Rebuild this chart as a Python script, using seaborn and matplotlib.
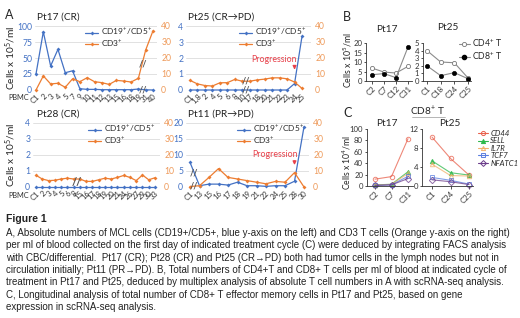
import numpy as np
import pandas as pd
import matplotlib
matplotlib.use("Agg")
import matplotlib.pyplot as plt
import seaborn as sns
from matplotlib.lines import Line2D

sns.set_theme(style="white")
plt.rcParams['font.family'] = ['Lato', 'DejaVu Sans']
plt.rcParams['mathtext.fontset'] = 'custom'
plt.rcParams['mathtext.rm'] = 'Lato'
plt.rcParams['mathtext.it'] = 'Lato:italic'
plt.rcParams['mathtext.bf'] = 'Lato:bold'

# ---------------- data ----------------
pt17_labels = ["C1", "2", "3", "4", "5", "7", "9", "10", "11", "12", "13", "15", "16", "18", "19", "31", "40"]
pt17_cd19 = [25, 91, 37.5, 63.5, 27, 30, 2, 1, 1, 0.5, 0.5, 0.5, 0.5, 0.5, 1.5, 0.3, 0]
pt17_cd3 = [0, 8.8, 3.8, 4.2, 1.7, 7, 5.2, 7.7, 5.2, 4.6, 3.5, 6, 5.6, 5, 7.3, 25, 37]

pt25_labels = ["C1", "1,8", "2", "4", "5", "6", "8", "10", "17", "18", "20", "21", "22", "23", "24", "25"]
pt25_cd19 = [0, 0, 0, 0, 0, 0, 0, 0, 0, 0, 0, 0, 0, 0, 0.4, 3.35]
pt25_cd3 = [6, 3.8, 2.8, 2.5, 4.5, 4.6, 6.6, 5.5, 5.5, 6.3, 6.8, 7.6, 7.6, 7.0, 5.0, 1.0]

pt28_labels = ["C1", "2", "3", "4", "5", "6", "8", "15", "16", "17", "18", "19", "20", "21", "24", "26", "27", "29", "30", "33"]
pt28_cd19 = [0] * 20
pt28_cd3 = [7.3, 5.0, 4.0, 4.2, 5.0, 5.5, 5.0, 5.0, 3.5, 3.5, 4.5, 5.5, 5.0, 6.0, 7.2, 6.0, 4.0, 7.5, 4.5, 5.8]

pt11_labels = ["C1", "13", "15", "16", "17", "18", "19", "21", "22", "24", "25", "28", "30"]
pt11_cd19 = [7.7, 0.4, 0.9, 0.9, 0.6, 1.5, 0.4, 0.4, 0.2, 0.4, 0.4, 1.8, 18.8]
pt11_cd3 = [0.3, 0.8, 6, 11.5, 6, 5, 4, 3, 2, 3.5, 3, 9, 0]

b17_labels = ["C2", "C7", "C12", "C31"]
b17_cd4 = [6.8, 4.7, 4.2, 7.7]
b17_cd8 = [3.3, 3.9, 1.75, 17.9]
b25_labels = ["C1", "C18", "C24", "C25"]
b25_cd4 = [4.0, 2.5, 2.4, 0.4]
b25_cd8 = [2.0, 0.7, 1.1, 0.3]

c17_labels = ["C2", "C7", "C31"]
c17 = {"CD44": [12, 16.5, 83], "SELL": [2, 3, 25], "IL7R": [1.5, 3, 22],
       "TCF7": [1, 2, 17], "NFATC1": [1, 2, 13]}
c25_labels = ["C1", "C24", "C25"]
c25 = {"CD44": [10.3, 5.8, 2.3], "SELL": [5.3, 2.8, 2.3], "IL7R": [4.6, 2.2, 2.1],
       "TCF7": [1.8, 1.2, 0.4], "NFATC1": [1.3, 0.9, 0.3]}
genes = ["CD44", "SELL", "IL7R", "TCF7", "NFATC1"]

caption = [
    "A, Absolute numbers of MCL cells (CD19+/CD5+, blue y-axis on the left) and CD3 T cells (Orange y-axis on the right)",
    "per ml of blood collected on the first day of indicated treatment cycle (C) were deduced by integrating FACS analysis",
    "with CBC/differential.  Pt17 (CR); Pt28 (CR) and Pt25 (CR\u2192PD) both had tumor cells in the lymph nodes but not in",
    "circulation initially; Pt11 (PR\u2192PD). B, Total numbers of CD4+T and CD8+ T cells per ml of blood at indicated cycle of",
    "treatment in Pt17 and Pt25, deduced by multiplex analysis of absolute T cell numbers in A with scRNA-seq analysis.",
    "C, Longitudinal analysis of total number of CD8+ T effector memory cells in Pt17 and Pt25, based on gene",
    "expression in scRNA-seq analysis.",
]

# ---------------- style ----------------
W, H = 520, 318
BLUE = "#4472C4"
ORANGE = "#ED7D31"
RTICK = "#EE9A5A"
GRID = "#DCDCDC"
RED = "#E8404A"

fig = plt.figure(figsize=(W / 100, H / 100), dpi=100)
fig.patch.set_facecolor("white")


def fx(x):
    return x / W


def fy(y):
    return 1 - y / H


def add_axes(L, T, R, B):
    return fig.add_axes([L / W, 1 - B / H, (R - L) / W, (B - T) / H])


def xlim_for(L, R, p0, p1, n):
    step = (p1 - p0) / (n - 1)
    return (-(p0 - L) / step, (n - 1) + (R - p1) / step)


def brk_mark(ax, x, y, size=6.5):
    ax.text(x, y, "//", fontsize=size, color="#555555", ha="center", va="center",
            zorder=6, fontweight="bold")


def panel_A(L, T, R, B, p0, p1, labels, cd19, cd3, ymax, yticks, show_pbmc,
            title, title_x, prog=None):
    n = len(labels)
    ax = add_axes(L, T, R, B)
    ax2 = ax.twinx()
    df = pd.DataFrame({"pos": np.arange(n), "CD19": cd19, "CD3": cd3})
    for y in yticks:
        ax.axhline(y, color=GRID, lw=0.6, zorder=0)
    sns.lineplot(data=df, x="pos", y="CD19", ax=ax, color=BLUE, lw=0.9, marker="D",
                 markersize=2.0, markeredgewidth=0, clip_on=False, zorder=3)
    sns.lineplot(data=df, x="pos", y="CD3", ax=ax2, color=ORANGE, lw=0.9, marker="D",
                 markersize=2.0, markeredgewidth=0, clip_on=False, zorder=3)
    ax.set_ylim(0, ymax)
    ax2.set_ylim(0, 40)
    ax.set_yticks(yticks)
    ax2.set_yticks([0, 10, 20, 30, 40])
    ax.set_xlim(*xlim_for(L, R, p0, p1, n))
    ax.set_xticks(np.arange(n))
    ax.set_xticklabels(labels, rotation=45, ha="right", rotation_mode="anchor",
                       fontsize=5.5, color="#333333")
    ax.tick_params(axis="y", labelsize=6.2, colors=BLUE, length=0, pad=2)
    ax.tick_params(axis="x", length=0, pad=2)
    ax2.tick_params(axis="y", labelsize=6.2, colors=RTICK, length=0, pad=3)
    for a in (ax, ax2):
        for s in a.spines.values():
            s.set_visible(False)
        a.set_xlabel("")
        a.set_ylabel("")
        a.grid(False)
        a.patch.set_visible(False)
    handles = [Line2D([], [], color=BLUE, lw=0.9, marker="D", markersize=2.0, markeredgewidth=0),
               Line2D([], [], color=ORANGE, lw=0.9, marker="D", markersize=2.0, markeredgewidth=0)]
    ax2.legend(handles, ["CD19$^{+}$/CD5$^{+}$", "CD3$^{+}$"], loc="upper right",
               bbox_to_anchor=(1.0, 1.06), frameon=False, fontsize=6.0, handlelength=1.6,
               handletextpad=0.3, labelspacing=0.05, borderaxespad=0.2)
    fig.text(fx(title_x), fy(T - 9), title, fontsize=7.3, ha="left", va="center", color="#222222")
    if show_pbmc:
        fig.text(fx(8), fy(B + 8), "PBMC", fontsize=5.3, ha="left", va="center", color="#333333")
    if prog is not None:
        idx, ytxt, yarrow_top, yarrow_bot = prog
        ax2.text(idx + 0.3, ytxt, "Progression", color=RED, fontsize=6.3, ha="right", va="center")
        ax2.annotate("", xy=(idx, yarrow_bot), xytext=(idx, yarrow_top),
                     arrowprops=dict(arrowstyle="-|>", color=RED, lw=0.9, mutation_scale=5))
    return ax, ax2


# Panel A
fig.text(fx(5), fy(15), "A", fontsize=9, ha="left", va="center")
a1, a1r = panel_A(35, 26, 157, 90, 36, 153, pt17_labels, pt17_cd19, pt17_cd3, 100,
                  [0, 25, 50, 75, 100], True, "Pt17 (CR)", 37)
brk_mark(a1r, 14.6, 16.5)
brk_mark(a1r, 14.6, 0)

a2, a2r = panel_A(186, 26, 311, 90, 190, 302, pt25_labels, pt25_cd19, pt25_cd3, 4,
                  [0, 1, 2, 3, 4], False, "Pt25 (CR\u2192PD)", 188,
                  prog=(14, 19, 16, 11))
brk_mark(a2r, 7.5, 5.6)
brk_mark(a2r, 7.5, 0)

a3, a3r = panel_A(33, 123, 160, 187, 36, 155, pt28_labels, pt28_cd19, pt28_cd3, 4,
                  [0, 1, 2, 3, 4], True, "Pt28 (CR)", 37)
brk_mark(a3r, 6.5, 2.5, size=8)

a4, a4r = panel_A(186, 123, 309, 187, 190, 304, pt11_labels, pt11_cd19, pt11_cd3, 20,
                  [0, 5, 10, 15, 20], False, "Pt11 (PR\u2192PD)", 188,
                  prog=(11, 20.5, 18, 12))
brk_mark(a4r, 0.45, 8.5)
brk_mark(a4r, 0.45, 0.5)

ylab = "Cells x 10$^{5}$/ml"
fig.text(fx(11), fy(58), ylab, rotation=90, fontsize=7.3, ha="center", va="center")
fig.text(fx(11), fy(155), ylab, rotation=90, fontsize=7.3, ha="center", va="center")


# ---------------- Panel B ----------------
def small_axes(L, T, R, B, p0, p1, n):
    ax = add_axes(L, T, R, B)
    ax.set_xlim(*xlim_for(L, R, p0, p1, n))
    for s in ["top", "right"]:
        ax.spines[s].set_visible(False)
    for s in ["left", "bottom"]:
        ax.spines[s].set_color("#333333")
        ax.spines[s].set_linewidth(0.6)
    ax.tick_params(axis="both", labelsize=5.6, length=1.8, width=0.6, pad=1, colors="#333333",
                   left=True, bottom=True)
    ax.grid(False)
    return ax


fig.text(fx(343), fy(17), "B", fontsize=9, ha="left", va="center")
LINEG = "#8C8C8C"
for (L, T, R, B, p0, p1, labels, cd4, cd8, ymax, yt, title, tx, ty) in [
        (366, 43, 412, 81, 372, 408, b17_labels, b17_cd4, b17_cd8, 20, [0, 5, 10, 15, 20], "Pt17", 387, 29),
        (423, 43, 471, 81, 427, 468, b25_labels, b25_cd4, b25_cd8, 5, [0, 1, 2, 3, 4, 5], "Pt25", 448, 27)]:
    ax = small_axes(L, T, R, B, p0, p1, len(labels))
    df = pd.DataFrame({"pos": np.arange(len(labels)), "CD4": cd4, "CD8": cd8})
    sns.lineplot(data=df, x="pos", y="CD4", ax=ax, color=LINEG, lw=0.8, marker="o",
                 markersize=3, markerfacecolor="white", markeredgecolor="#777777",
                 markeredgewidth=0.6, clip_on=False)
    sns.lineplot(data=df, x="pos", y="CD8", ax=ax, color=LINEG, lw=0.8, marker="o",
                 markersize=3, markerfacecolor="black", markeredgecolor="black",
                 markeredgewidth=0.5, clip_on=False)
    ax.set_ylim(0, ymax)
    ax.set_yticks(yt)
    ax.set_xticks(np.arange(len(labels)))
    ax.set_xticklabels(labels, rotation=45, ha="right", rotation_mode="anchor")
    ax.set_xlabel("")
    ax.set_ylabel("")
    fig.text(fx(tx), fy(ty), title, fontsize=7.3, ha="center", va="center")

fig.text(fx(348), fy(60), ylab, rotation=90, fontsize=6.3, ha="center", va="center")
hb = [Line2D([], [], color=LINEG, lw=0.8, marker="o", markersize=3, markerfacecolor="white",
             markeredgecolor="#777777", markeredgewidth=0.6),
      Line2D([], [], color=LINEG, lw=0.8, marker="o", markersize=3, markerfacecolor="black",
             markeredgecolor="black")]
fig.legend(hb, ["CD4$^{+}$ T", "CD8$^{+}$ T"], loc="upper left",
           bbox_to_anchor=(fx(459), fy(37)), frameon=False, fontsize=6.3,
           handlelength=1.2, handletextpad=0.3, labelspacing=0.15, borderaxespad=0, borderpad=0)

# ---------------- Panel C ----------------
fig.text(fx(343), fy(113), "C", fontsize=9, ha="left", va="center")
fig.text(fx(428), fy(111), "CD8$^{+}$ T", fontsize=7.3, ha="center", va="center")
fig.add_artist(Line2D([fx(412), fx(445)], [fy(117), fy(117)], color="#999999", lw=0.5))

gene_style = {
    "CD44": dict(color="#E8604C", marker="o", mfc="none"),
    "SELL": dict(color="#2DB84B", marker="^", mfc="#2DB84B"),
    "IL7R": dict(color="#F2B06A", marker="^", mfc="none"),
    "TCF7": dict(color="#5B7FE0", marker="s", mfc="none"),
    "NFATC1": dict(color="#6B3D8A", marker="D", mfc="none"),
}

for (L, T, R, B, p0, p1, labels, dat, ymax, yt, title, tx) in [
        (367, 129, 413, 186, 375, 408, c17_labels, c17, 100, [0, 20, 40, 60, 80, 100], "Pt17", 387),
        (422, 129, 473, 186, 432, 469, c25_labels, c25, 12, [0, 4, 8, 12], "Pt25", 450)]:
    ax = small_axes(L, T, R, B, p0, p1, len(labels))
    long = pd.DataFrame([{"pos": i, "gene": g, "val": dat[g][i]}
                         for g in genes for i in range(len(labels))])
    for g in genes:
        st = gene_style[g]
        sns.lineplot(data=long[long.gene == g], x="pos", y="val", ax=ax, color=st["color"],
                     lw=0.8, alpha=0.75, marker=st["marker"], markersize=3.2,
                     markerfacecolor=st["mfc"], markeredgecolor=st["color"], markeredgewidth=0.7,
                     clip_on=False)
    ax.set_ylim(0, ymax)
    ax.set_yticks(yt)
    ax.set_xticks(np.arange(len(labels)))
    ax.set_xticklabels(labels, rotation=45, ha="right", rotation_mode="anchor")
    ax.set_xlabel("")
    ax.set_ylabel("")
    fig.text(fx(tx), fy(123), title, fontsize=7.3, ha="center", va="center")

fig.text(fx(347), fy(162), "Cells x 10$^{4}$/ml", rotation=90, fontsize=6.2, ha="center", va="center")
hc = [Line2D([], [], color=gene_style[g]["color"], lw=0.8, marker=gene_style[g]["marker"],
             markersize=3.0, markerfacecolor=gene_style[g]["mfc"],
             markeredgecolor=gene_style[g]["color"], markeredgewidth=0.7) for g in genes]
leg = fig.legend(hc, genes, loc="upper left", bbox_to_anchor=(fx(478), fy(130)), frameon=False,
                 fontsize=5.6, handlelength=1.3, handletextpad=0.3, labelspacing=0.05,
                 borderaxespad=0, borderpad=0)
for t in leg.get_texts():
    t.set_fontstyle("italic")

# ---------------- Caption ----------------
fig.text(fx(6), fy(219), "Figure 1", fontsize=7.5, fontweight="bold", ha="left", va="center",
         family=["Liberation Sans", "DejaVu Sans"], color="#222222")
y0 = 233
for i, line in enumerate(caption):
    fig.text(fx(6), fy(y0 + i * 12.35), line, fontsize=7.05, ha="left", va="center",
             family=["Liberation Sans", "DejaVu Sans"], color="#222222")

fig.savefig("out.png", dpi=100)
